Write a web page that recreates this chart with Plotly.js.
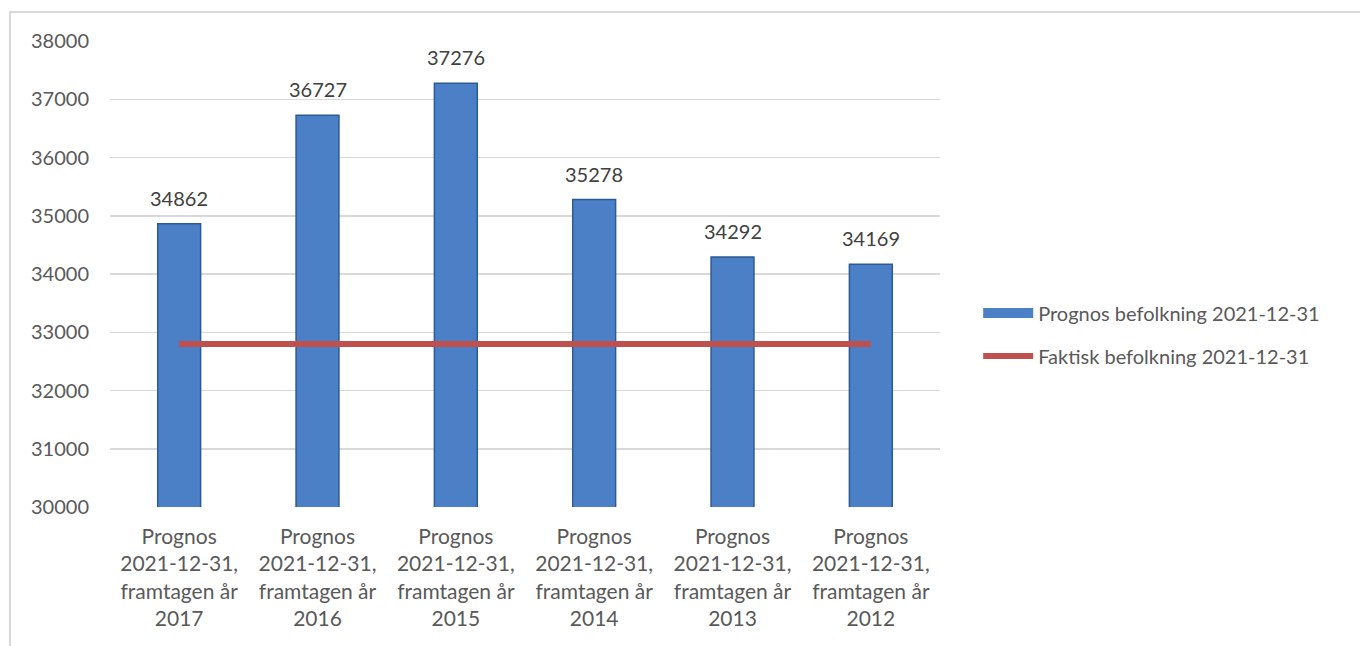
<!DOCTYPE html>
<html>
<head>
<meta charset="utf-8">
<script src="https://cdn.plot.ly/plotly-3.0.1.min.js"></script>
<style>
html,body{margin:0;padding:0;background:#fff;overflow:hidden;}
#chart{width:1360px;height:646px;position:absolute;left:0;top:0;}
#frame{position:absolute;left:9px;top:11px;width:1400px;height:700px;border:2px solid #d9d9d9;pointer-events:none;box-sizing:border-box;}
</style>
</head>
<body>
<div id="chart"></div>
<div id="frame"></div>
<script>
const categories = [
  "Prognos<br>2021-12-31,<br>framtagen år<br>2017",
  "Prognos<br>2021-12-31,<br>framtagen år<br>2016",
  "Prognos<br>2021-12-31,<br>framtagen år<br>2015",
  "Prognos<br>2021-12-31,<br>framtagen år<br>2014",
  "Prognos<br>2021-12-31,<br>framtagen år<br>2013",
  "Prognos<br>2021-12-31,<br>framtagen år<br>2012"
];
const prognosValues = [34862, 36727, 37276, 35278, 34292, 34169];
const faktiskValues = [32800, 32800, 32800, 32800, 32800, 32800];
const seriesNames = ["Prognos befolkning 2021-12-31", "Faktisk befolkning 2021-12-31"];
const yTicks = [30000, 31000, 32000, 33000, 34000, 35000, 36000, 37000, 38000];

const FONT = "Lato, 'Open Sans', sans-serif";
const BAR_COLOR = "#4b80c7";
const BAR_EDGE = "#2c5a96";

const data = [
  {
    type: "bar",
    name: seriesNames[0],
    x: categories,
    y: prognosValues,
    marker: {color: BAR_COLOR, line: {color: BAR_EDGE, width: 1.5}},
    showlegend: false,
    hoverinfo: "x+y"
  },
  {
    // legend entry for the bar series (wide rectangular key)
    type: "scatter",
    mode: "lines",
    name: seriesNames[0],
    x: [null],
    y: [null],
    line: {color: BAR_COLOR, width: 11},
    legendgroup: "a",
    hoverinfo: "skip"
  },
  {
    type: "scatter",
    mode: "lines",
    name: seriesNames[1],
    x: categories,
    y: faktiskValues,
    line: {color: "#c0504d", width: 6},
    legendgroup: "b",
    hoverinfo: "y"
  }
];

const annotations = prognosValues.map((v, i) => ({
  x: categories[i],
  y: v,
  xref: "x",
  yref: "y",
  text: String(v),
  showarrow: false,
  yanchor: "bottom",
  yshift: 12,
  font: {family: FONT, size: 20, color: "#404040"}
}));

const layout = {
  width: 1360,
  height: 646,
  margin: {l: 110, r: 420, t: 41, b: 139},
  paper_bgcolor: "#ffffff",
  plot_bgcolor: "#ffffff",
  font: {family: FONT, size: 20, color: "#595959"},
  bargap: 0.69,
  showlegend: true,
  annotations: annotations,
  legend: {
    x: 1.046, xanchor: "left",
    y: 0.37, yanchor: "middle",
    font: {family: FONT, size: 20, color: "#595959"},
    tracegroupgap: 14,
    itemwidth: 50,
    bgcolor: "rgba(0,0,0,0)"
  },
  xaxis: {
    type: "category",
    tickfont: {family: FONT, size: 21, color: "#595959"},
    showgrid: false,
    showline: false,
    zeroline: false,
    ticks: "",
    tickangle: 0,
    ticklabelstandoff: 15,
    automargin: false
  },
  yaxis: {
    range: [30000, 38000],
    tickvals: yTicks,
    ticktext: yTicks.map(String),
    tickfont: {family: FONT, size: 20, color: "#595959"},
    showgrid: true,
    gridcolor: "#d9d9d9",
    gridwidth: 1.5,
    zeroline: false,
    showline: false,
    ticks: "",
    ticklabelstandoff: 20,
    automargin: false
  }
};

Plotly.newPlot("chart", data, layout, {displayModeBar: false, staticPlot: true});
</script>
</body>
</html>
